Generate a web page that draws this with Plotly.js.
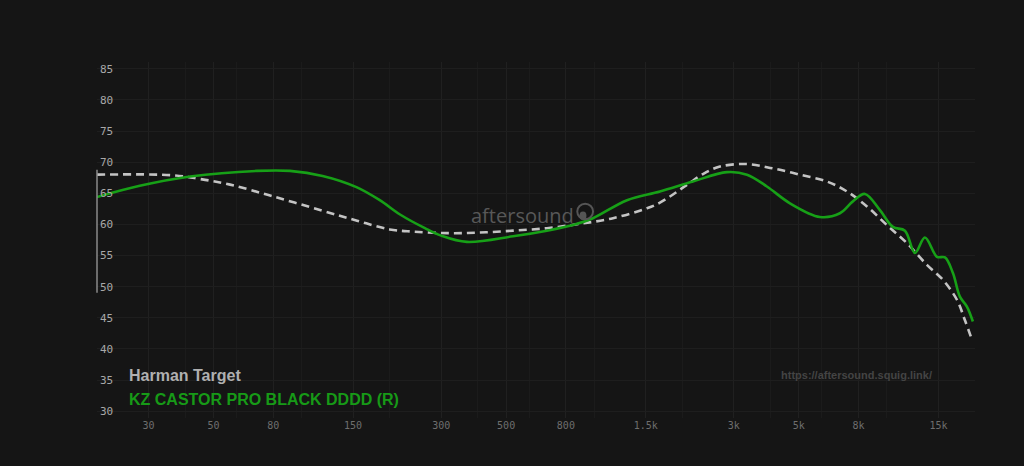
<!DOCTYPE html>
<html>
<head>
<meta charset="utf-8">
<script src="https://cdn.plot.ly/plotly-3.0.1.min.js"></script>
<style>
html,body{margin:0;padding:0;background:#151515;}
#chart{width:1024px;height:466px;}
</style>
</head>
<body>
<div id="chart"></div>
<script>
// Frequency response data (Hz, dB)
const measFreq = [20, 28, 41.6, 70.3, 91.3, 118, 154, 185, 217, 264, 300, 367, 528, 689, 846, 990, 1294, 1677, 2174, 2840, 3326, 3890, 4664, 5904, 6910, 7652, 8412, 9466, 10486, 11524, 12468, 13488, 14826, 15790, 16812, 17758, 18764, 19670];
const measDb   = [64.4, 66.2, 67.7, 68.6, 68.6, 67.8, 66.0, 63.9, 61.6, 59.4, 58.2, 57.2, 58.1, 59.0, 59.9, 61.0, 63.9, 65.3, 66.9, 68.4, 68.0, 66.1, 63.4, 61.2, 61.8, 63.7, 64.9, 62.3, 59.6, 59.0, 55.4, 57.9, 54.8, 54.7, 52.2, 48.4, 46.8, 44.4];

const targetFreq = [20, 36.4, 45, 57, 79.9, 118, 154.7, 200, 240, 314, 407, 528, 689, 894, 1159, 1514, 1677, 2074, 2352, 2689, 3326, 4078, 5044, 6238, 7300, 8546, 10000, 11704, 13700, 15538, 17350, 18478, 19520];
const targetDb   = [68.0, 67.9, 67.3, 66.4, 64.5, 62.2, 60.6, 59.2, 58.85, 58.6, 58.7, 59.0, 59.4, 60.1, 61.0, 62.6, 63.5, 66.35, 68.1, 69.3, 69.7, 69.0, 68.0, 66.9, 65.3, 62.9, 59.9, 57.0, 53.5, 51.1, 47.9, 44.6, 41.5];

const xTickVals = [30, 50, 80, 150, 300, 500, 800, 1500, 3000, 5000, 8000, 15000];
const xTickText = ['30', '50', '80', '150', '300', '500', '800', '1.5k', '3k', '5k', '8k', '15k'];
const xMinorVals = [20, 40, 60, 100, 200, 400, 600, 1000, 2000, 4000, 6000, 10000, 20000];
const yTickVals = [30, 35, 40, 45, 50, 55, 60, 65, 70, 75, 80, 85];

const targetName = 'Harman Target';
const measName = 'KZ CASTOR PRO BLACK DDDD (R)';

const traces = [
  {
    x: targetFreq, y: targetDb, name: targetName, type: 'scatter', mode: 'lines',
    line: {color: '#c4c4c4', width: 2.6, dash: '8px,5px', shape: 'spline', smoothing: 1},
    hoverinfo: 'skip'
  },
  {
    x: measFreq, y: measDb, name: measName, type: 'scatter', mode: 'lines',
    line: {color: '#17a017', width: 2.6, shape: 'spline', smoothing: 1},
    hoverinfo: 'skip'
  }
];

const layout = {
  width: 1024, height: 466,
  paper_bgcolor: '#151515', plot_bgcolor: '#151515',
  margin: {l: 97, r: 49, t: 62, b: 48},
  showlegend: false,
  xaxis: {
    type: 'log', range: [Math.log10(20), Math.log10(20000)],
    tickmode: 'array', tickvals: xTickVals, ticktext: xTickText,
    tickfont: {family: 'DejaVu Sans Mono', size: 10, color: '#6e6e6e'},
    showgrid: true, gridcolor: '#202020', gridwidth: 1,
    minor: {tickmode: 'array', tickvals: xMinorVals, showgrid: true, gridcolor: '#1b1b1b', ticks: ''},
    zeroline: false, showline: false, ticks: '', fixedrange: true
  },
  yaxis: {
    range: [28.9, 86.1],
    tickmode: 'array', tickvals: yTickVals,
    ticklabelposition: 'inside',
    tickfont: {family: 'DejaVu Sans Mono', size: 11, color: '#a8a8a8'},
    showgrid: true, gridcolor: '#1e1e1e', gridwidth: 1,
    zeroline: false, showline: false, ticks: '', fixedrange: true
  },
  shapes: [
    {type: 'line', xref: 'paper', yref: 'paper', x0: 0, x1: 0, y0: 0.352, y1: 0.697,
     line: {color: '#8a8a8a', width: 1.5}},
    {type: 'circle', xref: 'paper', yref: 'paper', x0: 0.547, x1: 0.565, y0: 0.558, y1: 0.602,
     line: {color: '#555555', width: 2}},
    {type: 'circle', xref: 'paper', yref: 'paper', x0: 0.5495, x1: 0.5575, y0: 0.556, y1: 0.580,
     fillcolor: '#555555', line: {width: 0}}
  ],
  annotations: [
    {text: 'aftersound', xref: 'paper', yref: 'paper', x: 0.485, y: 0.568, xanchor: 'center', yanchor: 'middle',
     showarrow: false, font: {family: 'Open Sans', size: 20, color: '#585858', weight: 400}},
    {text: 'https://aftersound.squig.link/', xref: 'paper', yref: 'paper', x: 0.953, y: 0.12, xanchor: 'right', yanchor: 'middle',
     showarrow: false, font: {family: 'Liberation Sans', size: 11, color: '#444444', weight: 'bold'}},
    {text: targetName, xref: 'paper', yref: 'paper', x: 0.034, y: 0.12, xanchor: 'left', yanchor: 'middle',
     showarrow: false, font: {family: 'Liberation Sans', size: 16, color: '#b0b0b0', weight: 'bold'}},
    {text: measName, xref: 'paper', yref: 'paper', x: 0.034, y: 0.053, xanchor: 'left', yanchor: 'middle',
     showarrow: false, font: {family: 'Liberation Sans', size: 16, color: '#179a17', weight: 'bold'}}
  ]
};

Plotly.newPlot('chart', traces, layout, {displayModeBar: false, staticPlot: true});
</script>
</body>
</html>
